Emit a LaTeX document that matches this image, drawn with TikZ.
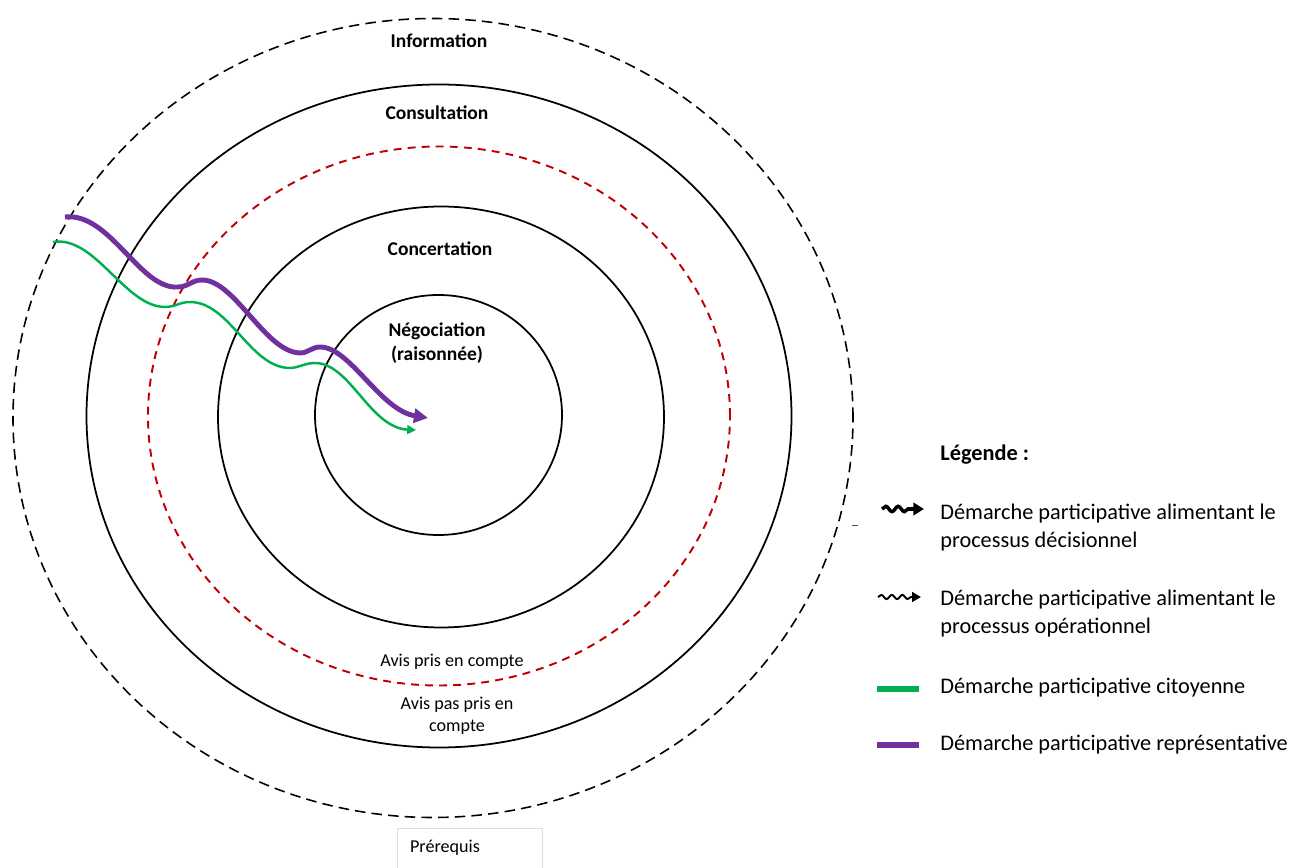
\documentclass[tikz,border=0pt]{standalone}
\usepackage{fontspec}
\setmainfont{Carlito}
\usepackage{xcolor}
\definecolor{avisred}{RGB}{192,0,0}
\definecolor{citgreen}{RGB}{0,176,80}
\definecolor{reppurple}{RGB}{112,48,160}
\definecolor{boxgray}{RGB}{222,222,222}
\usepackage{tikz}
\usetikzlibrary{arrows.meta, positioning, decorations.pathmorphing}

\tikzset{
  ring/.style={draw=black, line width=1pt},
  outerring/.style={draw=black, line width=0.9pt, dash pattern=on 6pt off 3.5pt},
  avisring/.style={draw=avisred, line width=1.1pt, dash pattern=on 4.5pt off 3.5pt},
  levellabel/.style={font=\fontsize{11.1}{13.4}\selectfont\bfseries, align=center},
  avislabel/.style={font=\fontsize{10.3}{12.6}\selectfont, align=center},
  legtext/.style={font=\fontsize{12.7}{15.9}\selectfont, align=left, anchor=west, inner sep=0pt},
  reppath/.style={reppurple, line width=2.8pt, -{Triangle[length=8pt,width=8pt]}},
  citpath/.style={citgreen, line width=1.4pt, -{Triangle[length=5pt,width=5pt]}}
}

\begin{document}
\begin{tikzpicture}
  \useasboundingbox (0,0) rectangle (26.14,17.34);

  % Rings
  \draw[outerring] (8.66,8.98) ellipse [x radius=8.40, y radius=7.99];
  \draw[ring] (8.78,9.02) ellipse [x radius=7.05, y radius=6.63];
  \draw[avisring] (8.78,9.02) ellipse [x radius=5.82, y radius=5.39];
  \draw[ring] (8.82,9.00) ellipse [x radius=4.46, y radius=4.21];
  \draw[ring] (8.77,9.04) ellipse [x radius=2.47, y radius=2.40];

  % Level labels
  \node[levellabel] (info) at (8.78,16.52) {Information};
  \node[levellabel] (consult) at (8.74,15.08) {Consultation};
  \node[levellabel] (concert) at (8.80,12.36) {Concertation};
  \node[levellabel] (nego) at (8.74,10.48) {Négociation\\(raisonnée)};

  % Avis labels
  \node[avislabel] (avisin) at (9.04,4.10) {Avis pris en compte};
  \node[avislabel] (avisout) at (9.14,3.02) {Avis pas pris en\\compte};

  % Prerequisite box
  \draw[boxgray, line width=0.5pt] (7.94,-0.2) rectangle (10.84,0.78);
  \node[avislabel] (prereq) at (8.90,0.38) {Prérequis};

  % Representative path (purple)
  \coordinate (repstart) at (1.30,13.00);
  \coordinate (repend) at (8.56,8.98);
  \draw[reppath] (repstart) .. controls (2.20,13.10) and (2.80,11.54) .. (3.56,11.60)
    .. controls (3.76,11.60) and (3.84,11.74) .. (4.04,11.74)
    .. controls (4.70,11.74) and (5.30,10.30) .. (6.00,10.28)
    .. controls (6.16,10.28) and (6.24,10.40) .. (6.40,10.40)
    .. controls (7.00,10.40) and (7.60,9.14) .. (repend);

  % Citizen path (green)
  \coordinate (citstart) at (1.06,12.50);
  \coordinate (citend) at (8.32,8.74);
  \draw[citpath] (citstart) .. controls (1.90,12.64) and (2.50,11.20) .. (3.30,11.20)
    .. controls (3.50,11.20) and (3.60,11.30) .. (3.80,11.30)
    .. controls (4.60,11.30) and (5.00,9.98) .. (5.80,9.98)
    .. controls (5.96,9.98) and (6.10,10.08) .. (6.30,10.08)
    .. controls (7.00,10.08) and (7.40,8.78) .. (citend);

  % small mark
  \draw[black!70, line width=0.4pt] (17.04,6.84) -- (17.16,6.84);

  % Legend
  \node[legtext, font=\fontsize{12.7}{15.9}\selectfont\bfseries] (legtitle) at (18.80,8.24) {Légende :};
  \node[legtext] (legdec) at (18.80,6.79) {Démarche participative alimentant le\\processus décisionnel};
  \node[legtext] (legop) at (18.80,5.07) {Démarche participative alimentant le\\processus opérationnel};
  \node[legtext] (legcit) at (18.80,3.58) {Démarche participative citoyenne};
  \node[legtext] (legrep) at (18.80,2.44) {Démarche participative représentative};

  \coordinate (decA) at (17.64,7.16);
  \coordinate (decB) at (18.48,7.16);
  \draw[line width=2pt, -{Triangle[length=6pt,width=7pt]}, decorate,
    decoration={snake, segment length=7pt, amplitude=1.5pt, post length=6pt}] (decA) -- (decB);
  \coordinate (opA) at (17.56,5.40);
  \coordinate (opB) at (18.42,5.40);
  \draw[line width=1.1pt, -{Triangle[length=5pt,width=5.5pt]}, decorate,
    decoration={snake, segment length=6pt, amplitude=1.2pt, post length=5pt}] (opA) -- (opB);
  \coordinate (citA) at (17.54,3.56);
  \coordinate (citB) at (18.38,3.56);
  \draw[citgreen, line width=3.4pt] (citA) -- (citB);
  \coordinate (repA) at (17.54,2.44);
  \coordinate (repB) at (18.38,2.44);
  \draw[reppurple, line width=3.4pt] (repA) -- (repB);
\end{tikzpicture}
\end{document}
